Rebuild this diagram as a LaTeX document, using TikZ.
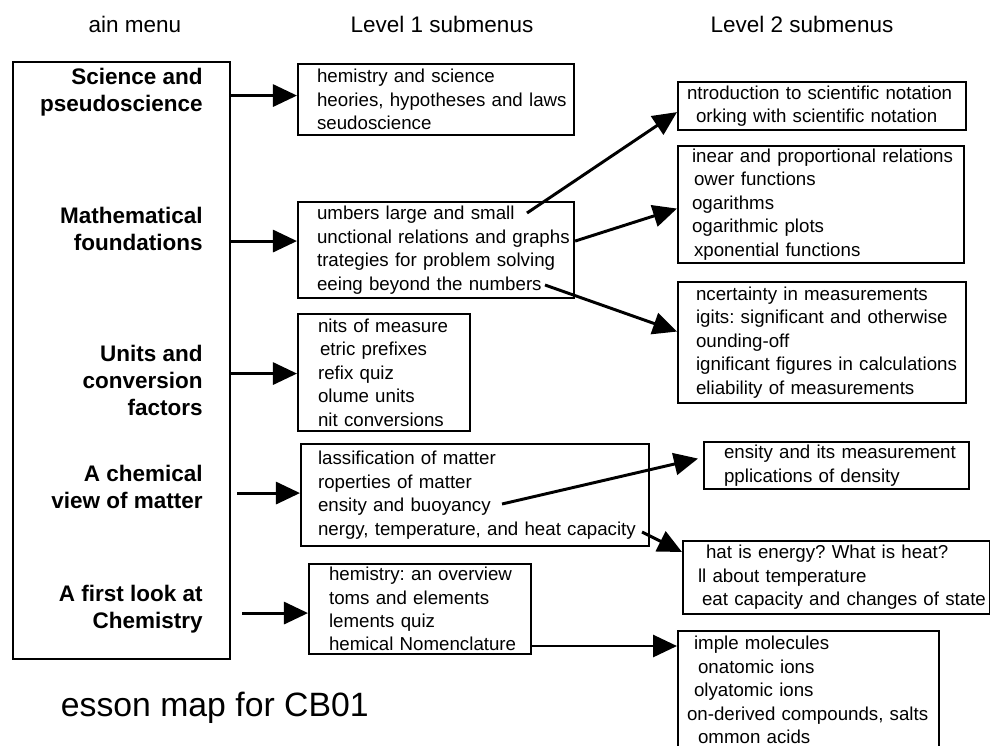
\documentclass[tikz,border=0pt]{standalone}
\usepackage{fontspec}
\setmainfont{Liberation Sans}
\usetikzlibrary{arrows.meta, calc, positioning}
\newlength\pxu
\setlength\pxu{0.025cm}
\frenchspacing

\begin{document}
\begin{tikzpicture}[x=0.025cm, y=-0.025cm,
  subbox/.style={draw, line width=1.5pt, anchor=north west, inner xsep=0pt, inner ysep=0pt,
    align=left, font=\fontsize{13.3}{16.7}\selectfont,
    execute at begin node={\leftskip=#1\pxu\rightskip=-3cm plus 1fil}},
  menu/.style={anchor=east, align=right, inner sep=0pt, font=\bfseries\fontsize{16}{19.2}\selectfont},
  heading/.style={font=\fontsize{16}{19.2}\selectfont},
  link/.style={-{Triangle[length=0.6cm, width=0.55cm]}, line width=2.1pt}]
\useasboundingbox (0,0) rectangle (990,745);

% column headings
\node (hmain) [heading] at (135,24) {ain menu};
\node (hlev1) [heading] at (442,24) {Level 1 submenus};
\node (hlev2) [heading] at (802,24) {Level 2 submenus};

% main menu
\node (main) [draw, line width=1.5pt, anchor=north west, minimum width=217\pxu, minimum height=597\pxu] at (12,61) {};
\node (sci) [menu] at (203,92) {Science and\\pseudoscience};
\node (math) [menu] at (203,229) {Mathematical\\foundations};
\node (units) [menu] at (203,380) {Units and\\conversion\\factors};
\node (matter) [menu] at (203,487) {A chemical\\view of matter};
\node (chem) [menu] at (203,609) {A first look at\\Chemistry};

% level 1
\node (b1) [subbox=19, text width=276\pxu, minimum height=71\pxu] at (297,63)
  {hemistry and science\\heories, hypotheses and laws\\seudoscience};
\node (b2) [subbox=19, text width=276\pxu, minimum height=96\pxu] at (297,201)
  {umbers large and small\\unctional relations and graphs\\trategies for problem solving\\eeing beyond the numbers};
\node (b3) [subbox=20, text width=172\pxu, minimum height=117\pxu] at (297,313)
  {nits of measure\\\hspace*{2\pxu}etric prefixes\\refix quiz\\olume units\\nit conversions};
\node (b4) [subbox=17, text width=348\pxu, minimum height=102\pxu] at (300,443)
  {lassification of matter\\roperties of matter\\ensity and buoyancy\\nergy, temperature, and heat capacity};
\node (b5) [subbox=20, text width=222\pxu, minimum height=90\pxu] at (308,563)
  {hemistry: an overview\\toms and elements\\lements quiz\\hemical Nomenclature};

% level 2
\node (c1) [subbox=9, text width=288\pxu, minimum height=48\pxu] at (677,81)
  {ntroduction to scientific notation\\\hspace*{9\pxu}orking with scientific notation};
\node (c2) [subbox=14, text width=286\pxu, minimum height=117\pxu] at (677,145)
  {inear and proportional relations\\\hspace*{2\pxu}ower functions\\ogarithms\\ogarithmic plots\\\hspace*{2\pxu}xponential functions};
\node (c3) [subbox=18, text width=288\pxu, minimum height=121\pxu] at (677,281)
  {ncertainty in measurements\\igits: significant and otherwise\\ounding-off\\ignificant figures in calculations\\eliability of measurements};
\node (c4) [subbox=20, text width=265\pxu, minimum height=47\pxu] at (703,441)
  {ensity and its measurement\\pplications of density};
\node (c5) [subbox=15, text width=307\pxu, minimum height=73\pxu] at (682,540)
  {\hspace*{8\pxu}hat is energy? What is heat?\\ll about temperature\\\hspace*{4\pxu}eat capacity and changes of state};
\node (c6) [subbox=9, text width=261\pxu, minimum height=118\pxu] at (677,630)
  {\hspace*{7\pxu}imple molecules\\\hspace*{11\pxu}onatomic ions\\\hspace*{7\pxu}olyatomic ions\\on-derived compounds, salts\\\hspace*{11\pxu}ommon acids};

\node (title) [anchor=west, font=\fontsize{24}{28}\selectfont] at (56,708) {esson map for CB01};

% main menu to level 1
\draw[link] ($(main.east |- b1.west)+(0,-4)$) -- ($(b1.west)+(0,-4)$);
\draw[link] ($(main.east |- b2.west)+(0,-9)$) -- ($(b2.west)+(0,-9)$);
\draw[link] ($(main.east |- b3.west)+(0,1)$) -- ($(b3.west)+(0,1)$);
\draw[link] ($(main.east |- b4.west)+(6,-2)$) -- ($(b4.west)+(0,-2)$);
\draw[link] ($(main.east |- b5.west)+(11,4)$) -- ($(b5.west)+(0,4)$);

% level 1 to level 2
\coordinate (numEnd) at (527,213);
\coordinate (seeEnd) at (545,285);
\coordinate (densEnd) at (502,504);
\coordinate (heatEnd) at (642,532);
\coordinate (c6in) at ($(c6.north west)+(0,16)$);
\draw[link] (numEnd) -- ($(c1.south west)+(0,-19)$);
\draw[link] ($(b2.east)+(0,-9)$) -- ($(c2.west)+(0,4)$);
\draw[link] (seeEnd) -- ($(c3.west)+(0,-11)$);
\draw[link] (densEnd) -- ($(c4.west)+(-5,-7)$);
\draw[link] (heatEnd) -- ($(c5.north west)+(0,12)$);
\draw[link] (b5.east |- c6in) -- (c6in);
\end{tikzpicture}
\end{document}
